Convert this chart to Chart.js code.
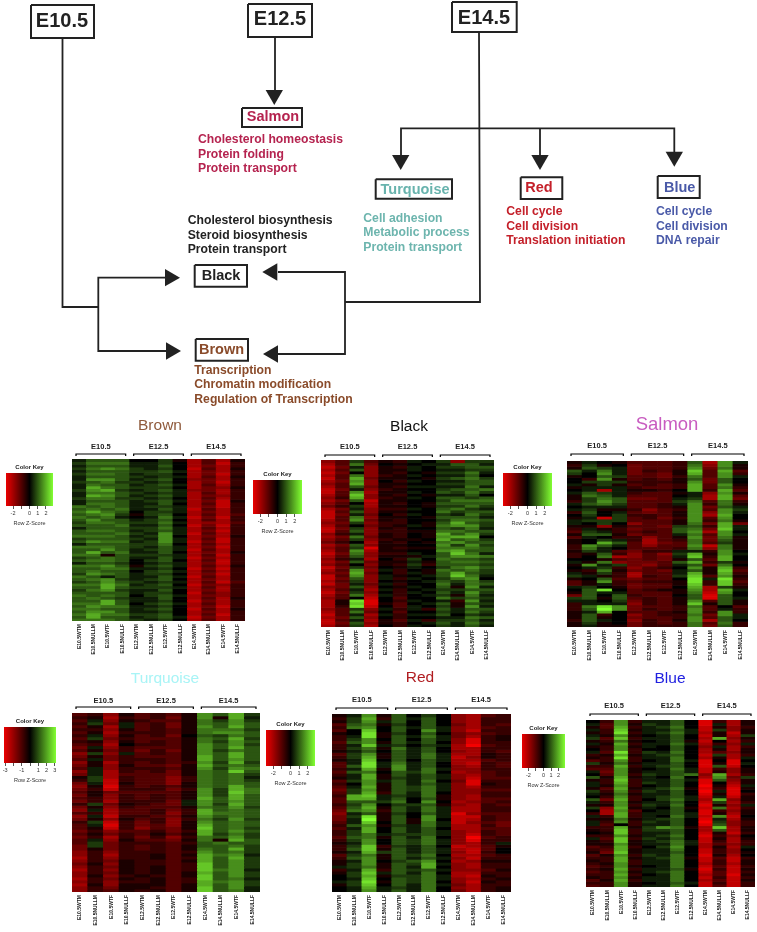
<!DOCTYPE html>
<html>
<head>
<meta charset="utf-8">
<title>Module heatmaps</title>
<script src="https://cdn.jsdelivr.net/npm/chart.js@4"></script>
<style>
  body { margin: 0; background: #fff; width: 757px; height: 932px; position: relative; overflow: hidden; }
  canvas { position: absolute; }
</style>
</head>
<body>
<script>
const sampleLabels = ["E10.5WTM","E10.5NULLM","E10.5WTF","E10.5NULLF","E12.5WTM","E12.5NULLM","E12.5WTF","E12.5NULLF","E14.5WTM","E14.5NULLM","E14.5WTF","E14.5NULLF"];
const stageLabels = ["E10.5","E12.5","E14.5"];
const keyTicks = [-2,-1,0,1,2];
const keyTickLabels = [-2,0,1,2];
const wideKeyTicks = [-3,-2,-1,0,1,2,3];
const wideKeyTickLabels = [-3,-1,1,2,3];

// cell values are row z-score levels, -9 (full red) to 9 (full green), one row per entry
const brownRows = [
[1,3,3,3,0,0,2,-1,-6,-3,-6,-1],[2,4,4,4,1,1,2,0,-6,-3,-7,-2],[1,3,3,3,1,1,3,0,-6,-4,-6,-2],[2,4,5,4,2,1,2,0,-7,-3,-6,-1],
[1,3,3,3,2,2,3,1,-6,-4,-6,-2],[2,4,4,3,1,2,2,0,-6,-4,-7,-2],[1,3,3,3,2,1,2,1,-6,-3,-6,-1],[1,5,5,3,1,2,3,0,-5,-4,-6,-2],
[2,3,4,2,2,1,2,0,-6,-4,-7,-2],[1,4,3,3,1,2,3,1,-6,-3,-6,-2],[1,6,4,3,2,2,2,0,-6,-4,-5,-1],[2,5,6,2,1,2,3,1,-5,-4,-6,-2],
[1,4,4,3,2,1,2,1,-6,-3,-6,-2],[1,6,5,3,1,2,3,1,-6,-4,-5,-2],[2,4,4,2,2,1,2,0,-6,-3,-6,-2],[1,3,3,3,1,2,3,1,-6,-4,-7,-1],
[1,4,4,3,1,1,3,0,-6,-3,-7,-2],[4,3,4,3,1,2,2,1,-6,-4,-7,-2],[3,4,3,4,1,1,3,1,-7,-3,-6,-2],[4,6,4,3,0,2,2,1,-6,-4,-6,-2],
[3,4,5,2,-1,2,3,0,-6,-3,-6,-3],[4,3,4,1,0,1,4,1,-7,-4,-7,-2],[3,5,3,3,1,2,3,0,-6,-3,-6,-2],[2,4,4,3,2,2,4,1,-6,-5,-6,-3],
[3,3,3,4,1,1,3,0,-7,-4,-7,-2],[1,3,3,3,2,2,4,1,-6,-3,-6,-2],[3,4,4,3,1,2,3,1,-6,-4,-7,-2],[3,3,3,4,2,1,5,1,-7,-3,-6,-2],
[4,4,4,3,1,2,5,0,-6,-4,-6,-1],[2,3,3,3,2,1,5,1,-6,-3,-7,-2],[3,5,4,4,1,2,5,1,-7,-4,-7,-2],[1,3,3,3,2,2,4,0,-6,-3,-6,-2],
[4,4,4,3,2,1,3,1,-6,-4,-7,-2],[3,3,5,3,1,2,3,1,-7,-3,-6,-2],[3,6,3,4,1,1,3,0,-6,-4,-6,-1],[4,4,-1,3,2,2,2,1,-6,-3,-7,-2],
[2,3,4,3,1,1,3,1,-7,-4,-6,-2],[3,4,4,3,0,2,3,0,-6,-3,-7,-2],[1,3,3,2,0,1,2,1,-6,-4,-7,-2],[4,4,5,3,-1,2,3,1,-6,-3,-6,-1],
[3,3,4,4,1,1,2,0,-7,-4,-7,-2],[3,4,3,3,0,2,3,1,-6,-3,-6,-2],[2,5,4,3,1,2,2,0,-6,-4,-7,-2],[4,3,1,3,1,1,3,1,-7,-3,-6,-2],
[3,4,5,2,1,2,3,0,-6,-4,-6,-2],[2,3,5,3,2,1,2,1,-6,-3,-7,-3],[4,4,6,4,1,2,3,0,-7,-4,-5,-2],[3,3,6,3,2,2,2,1,-6,-3,-6,-2],
[2,4,5,2,1,1,3,0,-6,-4,-6,-2],[3,3,3,3,1,2,2,0,-7,-3,-5,-2],[4,3,4,3,0,2,3,1,-6,-4,-5,-2],[3,4,3,2,1,1,3,0,-6,-3,-6,-1],
[3,3,6,3,1,1,2,0,-7,-4,-6,-2],[4,4,6,3,0,2,3,1,-6,-3,-6,-2],[3,5,4,4,1,1,2,0,-6,-4,-7,-2],[4,4,3,3,1,2,3,0,-7,-3,-6,-1],
[3,5,5,3,1,1,2,0,-6,-4,-6,-2],[4,6,4,4,2,2,3,0,-6,-3,-7,-2],[3,6,3,3,1,2,3,1,-7,-4,-6,-2],[4,4,4,3,2,1,2,0,-6,-3,-6,-2]
];
const blackRows = [
[-5,-3,2,-3,-1,-2,1,0,2,-5,2,2],[-6,-3,4,-4,0,-1,0,1,1,3,3,1],[-7,-4,1,-5,-1,-2,1,0,2,2,3,3],[-6,-3,3,-5,-1,-1,1,0,1,1,2,2],
[-7,-4,0,-5,-1,-2,0,-1,2,2,4,1],[-6,-3,4,-5,-2,-1,1,0,1,1,3,0],[-7,-3,6,-4,-1,-1,0,-1,2,3,4,2],[-6,-4,5,-5,0,-2,1,0,1,1,3,3],
[-5,-3,6,-5,-1,-1,0,0,2,2,3,3],[-6,-3,3,-4,-1,-2,1,1,1,1,4,1],[-7,-4,1,-5,-2,-1,0,0,2,3,3,4],[-7,-3,5,-6,-1,-1,1,0,3,2,4,2],
[-6,-3,7,-5,-1,-2,0,-1,1,1,3,0],[-5,-2,6,-5,-2,-1,1,0,3,3,2,3],[-6,-4,3,-7,-1,-1,0,0,2,4,4,4],[-5,-3,0,-6,-1,-2,0,-1,3,3,3,3],
[-4,-2,2,-6,-1,-1,0,-1,2,2,4,2],[-6,-4,1,-5,-2,-2,1,0,3,4,2,1],[-7,-3,3,-5,-1,-1,0,0,4,2,3,3],[-7,-4,1,-4,0,-2,1,0,2,1,4,2],
[-7,-3,4,-5,-1,-1,0,-1,3,3,3,1],[-6,-3,5,-4,-1,-2,0,0,2,4,4,3],[-5,-4,2,-5,-2,-2,0,-1,3,6,3,2],[-6,-3,0,-4,-2,-1,1,-1,4,5,5,2],
[-7,-4,2,-5,-1,-2,0,0,3,2,4,1],[-7,-3,3,-5,-2,-2,-1,-1,4,4,3,3],[-5,-2,1,-5,-1,-2,0,-1,6,3,5,2],[-6,-4,4,-4,-1,-2,0,-1,5,6,6,0],
[-5,-3,2,-5,-2,-1,-1,0,6,3,4,2],[-4,-2,0,-6,-1,-2,0,-1,4,5,3,3],[-6,-4,3,-5,-1,-1,0,0,5,2,5,2],[-5,-3,2,-8,-1,-2,-1,-1,4,4,4,3],
[-6,-3,5,-6,-1,-1,0,0,5,6,3,3],[-7,-4,4,-5,-2,-2,1,0,3,7,4,1],[-6,-3,3,-5,-1,-1,-1,1,3,5,5,4],[-5,-2,1,-6,0,-2,2,0,4,3,3,2],
[-6,-4,3,-4,-1,-1,1,-1,3,4,4,3],[-5,-3,0,-5,-1,-2,2,-2,3,3,3,2],[-7,-4,2,-4,0,-1,1,0,2,4,5,3],[-6,-3,5,-5,1,-2,0,-1,4,3,4,2],
[-5,-4,6,-4,0,-2,1,-1,3,6,3,2],[-7,-3,5,-5,1,-1,0,1,3,7,4,1],[-7,-4,3,-5,1,-2,1,0,2,4,5,0],[-6,-3,2,-5,0,-1,0,1,3,2,4,2],
[-7,-4,1,-4,1,-2,0,0,4,1,4,3],[-5,-4,3,-5,0,-1,1,0,3,-1,5,1],[-6,-3,1,-6,1,-2,0,1,2,2,3,3],[-7,-4,2,-5,0,-2,1,0,3,1,5,2],
[-6,-3,4,-6,1,-2,0,1,2,-1,4,1],[-5,-3,0,-7,0,-3,0,0,4,2,3,2],[-6,-1,8,-8,0,-2,1,0,1,-2,5,1],[-6,-1,7,-8,-1,-3,0,1,3,-1,3,2],
[-6,-2,8,-7,0,-3,1,0,2,-1,5,1],[-5,-3,2,-5,1,-2,1,-2,3,1,3,3],[-6,-3,4,-4,0,-3,0,0,2,1,4,2],[-7,-3,1,-6,1,-2,1,1,3,0,2,1],
[-6,-4,3,-5,0,-2,0,0,1,1,4,3],[-7,-3,1,-6,-1,-3,1,-2,2,2,3,1],[-7,-4,3,-5,-1,-2,0,1,3,1,4,2],[-6,-3,2,-6,0,-2,1,0,2,1,3,1]
];
const salmonRows = [
[-1,1,0,-1,-3,-3,-3,-2,3,-6,5,1],[-2,2,-1,0,-4,-3,-3,-2,4,-5,5,-1],[-1,3,2,1,-4,-3,-3,-2,5,-4,4,-1],[3,1,4,1,-4,-2,-3,-1,7,-3,6,-3],
[2,0,5,1,-4,-3,-4,-1,6,-3,5,-2],[-1,0,3,2,-3,-3,-4,-2,4,-3,5,1],[0,-2,5,-1,-3,-2,-3,-1,3,-4,3,0],[0,2,2,2,-2,-2,-2,-1,5,-4,3,0],
[1,-1,2,-1,-3,-2,-3,-2,6,-3,5,-1],[-1,1,1,1,-2,-3,-3,-2,6,-3,4,-2],[0,1,-6,1,-1,-1,-2,0,6,-2,6,-3],[1,3,2,1,-2,-3,-3,-1,1,-5,5,-1],
[-1,4,3,1,-3,-3,-3,0,1,-6,6,-3],[-1,2,4,3,-4,-4,-3,1,2,-6,6,-4],[-2,2,5,3,-3,-3,-3,2,4,-3,4,-2],[1,3,4,2,-3,-3,-2,1,5,-2,4,-1],
[0,1,1,1,-3,-3,-2,-1,5,-4,3,1],[1,2,-1,-1,-2,-5,-3,-2,5,-3,5,2],[-2,3,0,1,-3,-4,-3,-1,5,-5,5,1],[0,2,0,2,-2,-2,-3,-1,5,-6,6,0],
[-1,1,-7,2,-3,-2,-4,-2,5,-3,5,0],[1,2,2,2,-3,-3,-3,-1,5,-2,4,-1],[1,0,2,0,-5,-3,-3,-1,4,-4,6,-4],[-1,-1,-5,-1,-3,-3,-4,2,3,-2,6,1],
[-2,1,-1,-2,-4,-3,-3,3,4,-4,7,1],[-3,2,1,-2,-3,-2,-3,3,5,-6,5,0],[-1,3,3,-1,-4,-3,-3,1,4,-3,5,1],[-3,1,0,-2,-2,-5,-3,-1,5,-4,4,-1],
[-1,0,2,1,-2,-6,-3,-2,4,-4,3,-1],[-1,0,6,3,-3,-6,-4,-3,4,-3,2,-1],[-2,5,3,1,-3,-5,-3,-3,5,-7,4,-1],[-2,4,1,0,-3,-3,-3,-2,4,-5,4,-1],
[-1,2,1,-3,-4,-2,-2,1,1,-2,5,0],[-2,-1,3,-2,-5,-3,-5,2,6,-1,5,1],[-2,0,4,-6,-5,-3,-4,1,7,-2,6,0],[0,0,-1,-3,-4,-3,-4,-1,3,-3,6,0],
[1,-1,4,-5,-4,-4,-3,3,6,-2,2,-1],[-1,5,1,2,-4,-5,-3,1,3,-4,4,0],[0,1,2,-2,-5,-3,-2,0,5,-1,6,-2],[-1,-2,4,-1,-4,-3,-4,1,3,-1,7,-3],
[1,-1,2,-2,-6,-3,-3,1,6,-1,6,-2],[2,1,-1,-2,-6,-2,-3,2,7,-3,5,-1],[-1,0,3,-3,-4,-3,-3,0,8,1,8,-2],[-3,-1,5,-2,-3,-2,-2,-1,8,-2,7,-3],
[-3,-1,1,-2,-4,-3,-3,-1,7,-2,7,-2],[1,2,0,-1,-4,-3,-3,0,6,-6,2,-1],[0,3,8,0,-3,-2,-1,-1,5,-6,6,1],[-1,3,1,1,-3,-3,-3,-1,4,-7,5,0],
[-4,3,0,3,-2,-3,-3,0,3,-8,3,0],[2,3,-1,3,-3,-2,-3,-1,3,-8,3,1],[1,1,0,2,-4,-2,-3,-1,5,-3,3,-1],[-2,1,1,1,-5,-2,-3,-1,7,-1,3,-1],
[-2,4,8,5,-4,-3,-3,-2,4,-3,0,-3],[-2,3,9,5,-4,-2,-3,-2,5,-3,1,-2],[-1,1,6,0,-3,-3,-2,-1,5,-2,5,-2],[-1,3,-2,0,-5,-3,-2,-2,4,-4,5,1],
[-1,3,-1,0,-4,-3,-3,-2,5,-3,3,1],[-2,3,1,0,-5,-2,-3,-1,5,-6,3,0],[-1,2,-1,0,-4,-2,-3,-2,4,-3,4,-2],[-1,1,-1,-1,-4,-2,-2,-2,4,-4,3,-2]
];
const turquoiseRows = [
[-3,-2,-5,-1,-3,-2,-3,-1,5,3,6,2],[-2,-1,-6,-2,-3,-2,-4,-1,5,-1,6,1],[-3,1,-5,-1,-2,-3,-3,-1,4,2,5,2],[-2,2,-4,1,-3,-2,-4,-1,4,3,5,3],
[-3,-1,-6,1,-3,-2,-4,-1,5,3,6,3],[-2,-2,-5,-1,-3,-2,-3,-1,4,4,4,2],[-3,-1,-6,-2,-2,-2,-3,-1,4,5,5,3],[-2,1,-5,-1,-3,-2,-4,0,3,2,4,3],
[-3,2,-4,-2,-3,-3,-3,-1,4,3,6,2],[-2,-1,-5,-1,-3,-2,-3,-1,4,2,5,3],[-3,-2,-6,0,-2,-2,-3,-1,5,3,5,2],[-4,1,-5,-2,-3,-3,-3,-1,5,3,6,3],
[-3,-1,-4,-2,-4,-2,-4,-1,5,2,4,3],[-5,2,-5,1,-3,-2,-3,-1,5,3,6,3],[-4,-1,-4,-2,-3,-3,-3,-1,6,3,6,3],[-3,1,-4,-2,-2,-2,-3,-1,6,3,5,3],
[-5,-1,-6,-2,-3,-2,-3,-2,5,2,6,2],[-4,-1,-5,-1,-3,-3,-4,-1,6,3,4,3],[-3,1,-5,-2,-2,-2,-3,-1,5,2,5,4],[-5,1,-6,-2,-3,-2,-4,-1,4,3,7,3],
[-4,1,-6,-3,-3,-3,-4,-1,4,3,4,2],[-1,2,-6,-2,-3,-3,-5,-2,4,3,4,1],[-2,2,-7,-2,-3,-3,-5,-2,4,3,4,2],[-4,1,-7,-1,-3,-3,-5,-1,4,3,4,3],
[-5,-1,-8,-2,-3,-2,-3,-1,4,3,6,3],[-4,-2,-7,-2,-2,-2,-4,-2,5,2,6,4],[-3,-1,-4,-3,-3,-3,-3,-1,5,2,7,4],[-4,-1,-5,-2,-3,-2,-3,-1,5,2,6,3],
[-3,-2,-5,-2,-3,-2,-3,-1,6,3,6,3],[-4,-2,-6,-2,-2,-2,-4,1,5,3,5,3],[-2,2,-4,-1,-2,-3,-4,1,5,2,6,3],[-4,-1,-5,-2,-3,-3,-3,-1,4,3,5,2],
[-5,1,-6,-3,-3,-2,-4,-2,6,3,4,3],[-3,-2,-6,-3,-3,-2,-5,-2,6,4,4,3],[-5,1,-7,-2,-2,-3,-4,-1,5,3,4,3],[-4,-1,-5,-1,-3,-2,-5,-2,4,2,5,2],
[-2,2,-7,-2,-4,-2,-5,-1,5,3,4,3],[-3,1,-8,-2,-4,-3,-5,-1,6,3,4,3],[-3,-1,-7,-2,-5,-3,-4,-1,7,3,4,2],[-4,-2,-5,-3,-3,-2,-4,-2,6,3,5,3],
[-3,-1,-4,-2,-3,-1,-3,-1,6,2,4,2],[-4,-2,-6,-2,-4,-2,-5,-2,4,3,5,2],[-3,1,-5,-1,-3,-3,-4,-1,4,-1,6,3],[-3,2,-4,-2,-2,-2,-3,-2,3,4,3,3],
[-4,2,-4,-2,-3,-2,-3,-1,3,3,4,2],[-4,-1,-4,-2,-3,-2,-3,-1,4,3,6,2],[-5,-2,-5,-2,-2,-2,-3,-2,5,3,4,2],[-5,-2,-6,-2,-2,-1,-3,-1,6,4,5,1],
[-6,-2,-5,-2,-2,-1,-3,-2,6,3,6,2],[-5,-2,-4,-1,-2,-2,-3,-1,6,3,5,2],[-4,-1,-5,-1,-2,-2,-3,-2,7,3,5,2],[-5,-2,-4,-1,-2,-1,-3,-2,7,3,5,2],
[-6,-2,-5,-1,-2,-1,-3,-2,7,4,5,1],[-5,-2,-4,-1,-2,-1,-3,-1,6,3,5,2],[-5,-1,-5,-2,-1,-2,-3,-1,7,3,5,2],[-6,-2,-4,-1,-2,-1,-3,-2,7,3,4,1],
[-5,-2,-5,-2,-2,-1,-3,-2,6,4,5,2],[-6,-1,-5,-1,-1,-1,-3,-1,6,3,5,2],[-5,-2,-4,-1,-1,-2,-3,-1,7,3,5,1],[-5,-2,-3,-1,-2,-1,-3,-1,7,3,4,1]
];
const redRows = [
[-1,1,5,-1,3,0,2,0,-5,-6,-3,-2],[-2,2,6,-2,3,1,3,0,-5,-6,-2,-2],[-1,2,5,1,3,0,3,0,-5,-6,-2,-2],[-3,3,4,-1,2,0,3,0,-4,-6,-2,-3],
[-2,4,5,0,3,1,3,1,-5,-6,-3,-2],[-3,0,7,0,3,0,5,1,-5,-7,-2,-2],[-1,0,8,-1,2,0,3,0,-4,-5,-3,-2],[-2,1,8,-1,3,1,4,1,-4,-6,-2,-1],
[-2,2,5,0,3,0,3,1,-5,-8,-2,-1],[-3,3,5,-1,3,1,3,0,-5,-8,-2,-2],[-2,1,7,1,2,0,2,1,-6,-9,-3,-2],[-2,2,4,-1,4,1,3,0,-6,-6,-2,-2],
[-1,1,3,0,3,1,3,0,-5,-6,-2,-3],[-3,2,5,-1,3,1,4,1,-6,-6,-1,-2],[-2,2,6,-1,3,1,4,1,-7,-5,-1,-2],[-1,1,7,0,3,0,3,1,-6,-6,-3,-2],
[-3,1,8,1,4,1,3,0,-6,-7,-2,-3],[-3,3,8,1,5,1,3,0,-5,-6,-2,-3],[-2,1,6,-1,5,1,4,1,-5,-5,-2,-2],[-3,3,4,0,3,2,4,0,-6,-5,-3,-2],
[-2,1,6,-1,3,1,3,1,-5,-6,-3,-2],[-1,1,6,-1,2,1,3,1,-5,-7,-3,-3],[-3,2,5,1,3,1,4,0,-4,-8,-2,-2],[-2,0,5,-1,3,1,3,1,-5,-8,-1,-2],
[-3,1,6,-1,3,2,4,1,-5,-6,-2,-2],[-4,2,5,-1,3,2,4,1,-5,-5,-3,-3],[-3,2,6,-2,3,1,4,0,-5,-5,-2,-2],[-2,6,7,1,2,1,4,-1,-5,-6,-2,-2],
[-3,6,6,1,3,0,3,-1,-5,-6,-3,-3],[-3,3,3,2,4,0,5,0,-6,-5,-3,-2],[-2,2,5,0,2,2,3,-1,-5,-6,-2,-3],[-3,3,6,-1,3,1,4,1,-6,-6,-2,-2],
[-4,4,5,-2,3,1,4,1,-6,-6,-2,-2],[-5,1,3,-1,2,0,3,1,-8,-5,-3,-3],[-4,2,8,-1,3,0,5,1,-7,-7,-2,-3],[-4,1,9,-1,3,-1,5,0,-7,-6,-2,-3],
[-3,1,7,0,3,-1,4,1,-7,-5,-3,-4],[-2,3,5,-1,2,1,4,1,-6,-6,-2,-4],[-3,1,6,0,3,1,3,0,-6,-6,-3,-3],[-2,2,6,0,3,1,3,1,-5,-6,-2,-3],
[-2,2,4,1,2,2,3,1,-5,-7,-2,-3],[-3,3,4,-1,3,1,4,0,-5,-9,-3,-2],[-2,2,5,0,3,2,4,1,-5,-8,-2,-2],[-1,1,5,0,3,2,4,1,-5,-6,-2,1],
[-2,2,7,-2,2,1,3,0,-7,-6,-3,-1],[-2,3,7,-1,3,1,3,1,-6,-7,-3,0],[-1,1,6,2,3,1,3,1,-5,-7,-2,0],[-3,2,4,-1,3,2,4,0,-6,-6,-3,-2],
[-2,3,5,-1,3,1,3,1,-5,-7,-2,-2],[-1,1,5,0,2,3,5,0,-6,-5,-1,-1],[-1,2,5,-1,3,2,6,1,-5,-6,-2,-2],[1,2,4,-1,3,1,6,0,-5,-6,-2,-2],
[-2,1,6,-2,3,2,3,1,-5,-5,-3,-1],[-1,2,7,1,3,1,4,0,-6,-6,-2,-2],[0,2,6,-1,2,2,4,1,-6,-7,-1,-2],[0,1,7,0,3,2,4,1,-5,-6,-2,-1],
[1,2,8,-1,3,2,4,0,-5,-7,-1,-2],[-1,2,7,0,3,1,4,1,-4,-6,-2,-2],[0,1,6,1,2,1,4,0,-5,-6,-2,-1],[0,1,5,1,3,1,4,0,-4,-6,-2,-1]
];
const blueRows = [
[0,-2,5,-2,1,1,3,0,-8,-2,-6,-1],[1,-3,5,-1,2,1,3,0,-8,1,-6,-1],[-1,-3,6,-2,1,2,4,0,-7,-1,-5,-2],[1,-2,7,-1,1,1,3,1,-7,2,-5,-1],
[-1,-2,8,-2,1,2,4,1,-6,-1,-7,-1],[1,-1,5,-1,0,1,3,0,-7,-1,-6,2],[2,-3,7,-2,1,1,3,0,-6,6,-5,-1],[-1,-2,4,-1,0,1,3,-1,-7,0,-6,-2],
[1,-1,6,-2,1,1,4,1,-6,-2,-5,1],[-1,-2,5,-1,1,0,3,0,-5,1,-6,-2],[0,-2,5,-2,0,0,3,0,-6,-1,-6,-1],[1,-3,8,-2,2,1,4,0,-6,-3,-5,-1],
[-2,-1,6,-1,1,2,3,0,-7,2,-6,-2],[-1,-2,8,-2,1,1,4,0,-6,-1,-6,1],[-3,-2,5,-2,0,1,4,1,-8,0,-8,0],[2,-1,4,-1,1,1,3,0,-8,-1,-8,1],
[-2,-2,6,-2,1,2,3,0,-8,3,-7,0],[-3,-3,5,-1,0,1,4,1,-7,-2,-5,-1],[1,-4,5,-1,1,1,3,1,-7,-1,-5,-1],[0,-3,5,-2,2,1,3,4,-5,6,-6,-2],
[3,-1,6,-1,1,0,4,0,-6,5,-4,2],[-1,-2,7,-2,1,1,3,1,-8,3,-5,-1],[1,-2,6,-2,2,1,3,0,-8,0,-6,-1],[1,-1,5,-2,0,1,3,0,-9,-1,-7,1],
[-1,-3,6,-1,1,2,4,-1,-8,-2,-8,-1],[2,-2,5,-2,2,1,3,0,-9,1,-8,0],[1,-1,4,-1,1,1,3,0,-8,-1,-8,-2],[0,-2,5,-2,1,2,3,1,-7,1,-7,-1],
[3,-4,6,-2,0,2,4,1,-6,6,-5,-1],[1,-2,5,-1,1,1,3,0,-7,2,-6,-2],[-1,-1,5,-2,2,1,4,0,-8,-1,-5,1],[2,-5,6,-1,1,0,3,-1,-7,4,-6,-2],
[0,-6,5,-3,0,1,3,0,-8,-2,-5,-1],[-2,-6,6,-2,1,1,3,1,-8,-1,-6,-1],[1,-2,6,-2,1,0,4,1,-7,5,-7,0],[-1,-1,4,-1,1,2,3,0,-8,1,-6,-1],
[1,-2,5,-2,2,1,3,0,-9,2,-5,-2],[1,-3,0,-2,1,1,3,0,-8,3,-5,-2],[-2,-2,6,-1,2,5,4,-1,-6,7,-6,-1],[-1,-2,7,-2,2,2,3,0,-6,3,-6,-1],
[0,-1,7,-2,1,1,3,0,-7,-1,-7,-2],[-2,-2,5,-1,1,2,4,0,-8,-2,-5,0],[1,-3,7,-2,2,1,3,0,-7,-1,-6,-1],[-1,-2,7,-1,1,2,4,1,-7,-2,-6,-2],
[-1,-1,5,-1,1,1,4,1,-6,-3,-5,-2],[-3,-2,6,-2,0,2,5,0,-6,-1,-6,1],[-2,-3,6,-1,1,1,4,0,-7,-2,-5,0],[-1,-4,7,-1,1,1,3,0,-7,-2,-5,-1],
[-3,-1,5,-2,2,1,4,0,-8,-1,-6,0],[-2,-2,6,-1,1,2,4,-1,-7,-3,-7,-2],[-1,-2,6,-2,1,1,4,0,-7,-2,-7,-1],[-2,-1,5,-2,1,1,4,0,-6,-2,-6,-1],
[-3,-2,5,-1,0,1,4,0,-7,-3,-7,-2],[-2,-1,6,-2,1,1,3,-1,-8,-2,-7,-1],[-3,-2,5,-1,1,2,4,0,-7,-3,-7,-2],[-2,-2,6,-2,0,1,4,0,-6,-3,-8,-1],
[-1,-2,5,-1,1,1,4,0,-7,-2,-7,-2],[-3,-1,6,-2,1,1,4,0,-6,-3,-7,-1],[-2,-2,5,-1,0,1,3,1,-7,-2,-7,-2],[-3,-2,5,-1,1,1,4,0,-7,-3,-7,-2]
];

// flow diagram lines, in page pixels of the diagram axes
const e105Path = [{x:62.5,y:38},{x:62.5,y:307},{x:98.3,y:307}];
const leftFork = [{x:166,y:277.7},{x:98.3,y:277.7},{x:98.3,y:351},{x:166,y:351}];
const e125Path = [{x:275,y:37},{x:275,y:90}];
const e145Path = [{x:479,y:32},{x:480,y:302},{x:345,y:302}];
const rightFork = [{x:278,y:272},{x:345,y:272},{x:345,y:354},{x:278,y:354}];
const topRail = [{x:401,y:155},{x:401,y:128.3},{x:674.3,y:128.3},{x:674.3,y:152}];
const midDrop = [{x:540,y:128.3},{x:540,y:155}];
const downHeads = [{x:274.3,y:95},{x:400.7,y:160},{x:540,y:160},{x:674.3,y:156.7}];
const rightHeads = [{x:170,y:277.7},{x:171,y:351}];
const leftHeads = [{x:272.3,y:272},{x:273,y:354}];

const nodes = [
  {text:"E10.5", box:[31,5,94,38], tx:62, ty:21, size:20, color:"#222"},
  {text:"E12.5", box:[248,4,312,37], tx:280, ty:19.5, size:20, color:"#222"},
  {text:"E14.5", box:[452,2,516.7,32], tx:484, ty:18, size:20, color:"#222"},
  {text:"Salmon", box:[242,108,302,127], tx:273, ty:117, size:14.5, color:"#b5234f"},
  {text:"Black", box:[194.7,265,247,286.7], tx:221, ty:276, size:14.5, color:"#222"},
  {text:"Brown", box:[195.7,339,248,360.7], tx:221.5, ty:350, size:14.5, color:"#8a4b2a"},
  {text:"Turquoise", box:[375.7,179.3,452,198.7], tx:415, ty:189.5, size:14.5, color:"#68b3ad"},
  {text:"Red", box:[520.7,177.3,562.3,199], tx:539, ty:187.5, size:14.5, color:"#c4202a"},
  {text:"Blue", box:[657.7,176,699.7,198], tx:679.7, ty:188, size:14.5, color:"#4a5aa8"}
];
const termLists = [
  {x:198, y:140, color:"#b5234f", terms:["Cholesterol homeostasis","Protein folding","Protein transport"]},
  {x:187.7, y:221, color:"#222", terms:["Cholesterol biosynthesis","Steroid biosynthesis","Protein transport"]},
  {x:194.3, y:370.7, color:"#8a4b2a", terms:["Transcription","Chromatin modification","Regulation of Transcription"]},
  {x:363.3, y:218.7, color:"#6db5ae", terms:["Cell adhesion","Metabolic process","Protein transport"]},
  {x:506.3, y:212, color:"#c4202a", terms:["Cell cycle","Cell division","Translation initiation"]},
  {x:656, y:212, color:"#4a5aa8", terms:["Cell cycle","Cell division","DNA repair"]}
];

const panels = [
  {title:"Brown", color:"#8f5a3c", size:15.5, titleX:160, titleY:426, box:[72,459,245,621], bracketY:454, stageY:447, rows:brownRows},
  {title:"Black", color:"#111", size:15.5, titleX:409, titleY:427, box:[321,460,494,627], bracketY:455, stageY:447, rows:blackRows},
  {title:"Salmon", color:"#c85cc0", size:18.5, titleX:667, titleY:425, box:[567,461,748,627], bracketY:454, stageY:446, rows:salmonRows},
  {title:"Turquoise", color:"#a8f4f6", size:15.5, titleX:165, titleY:679, box:[72,713,260,892], bracketY:707, stageY:700.5, rows:turquoiseRows},
  {title:"Red", color:"#b01c20", size:15.5, titleX:420, titleY:678, box:[332,714,511,892], bracketY:708, stageY:700, rows:redRows},
  {title:"Blue", color:"#2020e0", size:15.5, titleX:670, titleY:679, box:[586,720,755,887], bracketY:714, stageY:706, rows:blueRows}
];
const keys = [
  {box:[6,473,53,506], range:2.85, ticks:keyTicks, labels:keyTickLabels},
  {box:[253,480,302,514], range:2.85, ticks:keyTicks, labels:keyTickLabels},
  {box:[503,473,552,506], range:2.85, ticks:keyTicks, labels:keyTickLabels},
  {box:[4,727,56,763], range:3.15, ticks:wideKeyTicks, labels:wideKeyTickLabels},
  {box:[266,730,315,766], range:2.85, ticks:keyTicks, labels:keyTickLabels},
  {box:[522,734,565,768], range:2.85, ticks:keyTicks, labels:keyTickLabels}
];

const FONT = '"Liberation Sans", Arial, sans-serif';
Chart.defaults.font.family = FONT;

function addCanvas(left, top, w, h) {
  const c = document.createElement("canvas");
  c.width = w; c.height = h;
  c.style.left = left + "px";
  c.style.top = top + "px";
  document.body.appendChild(c);
  return c;
}

function cellColor(v) {
  const t = Math.min(Math.abs(v) / 9, 1);
  if (v < 0) return `rgb(${Math.round(245 * t)},0,0)`;
  return `rgb(${Math.round(130 * t)},${Math.round(255 * t)},${Math.round(50 * t)})`;
}

function drawFlow() {
  const line = (data, width) => ({type:"line", data, showLine:true, fill:false, tension:0, pointRadius:0, borderColor:"#222", borderWidth:width || 1.8});
  const heads = (data, rotation) => ({type:"scatter", data, pointStyle:"triangle", pointRadius:10, pointRotation:rotation, backgroundColor:"#222", borderWidth:0});
  const boxLine = n => {
    const [x0,y0,x1,y1] = n.box;
    return line([{x:x0,y:y0},{x:x1,y:y0},{x:x1,y:y1},{x:x0,y:y1},{x:x0,y:y0}], 2);
  };
  new Chart(addCanvas(0, 0, 757, 410), {
    type: "scatter",
    data: {datasets: [
      line(e105Path), line(leftFork), line(e125Path), line(e145Path), line(rightFork), line(topRail), line(midDrop),
      heads(downHeads, 180), heads(rightHeads, 90), heads(leftHeads, 270),
      ...nodes.map(boxLine)
    ]},
    options: {
      responsive: false, animation: false,
      layout: {autoPadding: false},
      plugins: {legend:{display:false}, tooltip:{enabled:false}},
      scales: {x:{display:false, min:0, max:757}, y:{display:false, min:0, max:410, reverse:true}}
    },
    plugins: [{
      id: "flowText",
      afterDraw(chart) {
        const {ctx, scales:{x, y}} = chart;
        ctx.save();
        ctx.textBaseline = "middle";
        ctx.textAlign = "center";
        nodes.forEach(n => {
          ctx.font = `bold ${n.size}px ${FONT}`;
          ctx.fillStyle = n.color;
          ctx.fillText(n.text, x.getPixelForValue(n.tx), y.getPixelForValue(n.ty));
        });
        ctx.textAlign = "left";
        ctx.font = `bold 12.2px ${FONT}`;
        termLists.forEach(l => {
          ctx.fillStyle = l.color;
          l.terms.forEach((t, i) => ctx.fillText(t, x.getPixelForValue(l.x), y.getPixelForValue(l.y + i * 14.4)));
        });
        ctx.restore();
      }
    }]
  });
}

function drawHeatmap(p) {
  const [x0, y0, x1, y1] = p.box;
  const top = p.titleY - 13, bottom = Math.min(y1 + 40, 932);
  new Chart(addCanvas(x0, top, x1 - x0, bottom - top), {
    type: "bar",
    data: {
      labels: sampleLabels,
      datasets: p.rows.map(row => ({
        data: row.map(() => 1),
        backgroundColor: row.map(cellColor),
        borderWidth: 0, barPercentage: 1, categoryPercentage: 1
      }))
    },
    options: {
      responsive: false, animation: false,
      layout: {padding: {top: y0 - top}},
      plugins: {legend:{display:false}, tooltip:{enabled:false}},
      scales: {
        x: {
          stacked: true,
          grid: {display:false, drawTicks:false},
          border: {display:false},
          afterFit: s => { s.height = bottom - y1; s.paddingLeft = 0; s.paddingRight = 0; },
          ticks: {autoSkip:false, minRotation:90, maxRotation:90, padding:3, color:"#222", font:{size:5, weight:"bold"}}
        },
        y: {display:false, stacked:true, reverse:true, min:0, max:p.rows.length}
      }
    },
    plugins: [{
      id: "panelText",
      afterDraw(chart) {
        const {ctx, scales:{x}} = chart;
        const col = x.getPixelForTick(1) - x.getPixelForTick(0);
        ctx.save();
        ctx.textAlign = "center";
        ctx.textBaseline = "middle";
        ctx.font = `${p.size}px ${FONT}`;
        ctx.fillStyle = p.color;
        ctx.fillText(p.title, p.titleX - x0, p.titleY - top);
        stageLabels.forEach((s, i) => {
          const a = x.getPixelForTick(i * 4) - col / 2 + 4;
          const b = x.getPixelForTick(i * 4 + 3) + col / 2 - 4;
          const by = p.bracketY - top;
          ctx.strokeStyle = "#000";
          ctx.lineWidth = 1.2;
          ctx.beginPath();
          ctx.moveTo(a, by + 2); ctx.lineTo(a, by); ctx.lineTo(b, by); ctx.lineTo(b, by + 2);
          ctx.stroke();
          ctx.font = `bold 7.5px ${FONT}`;
          ctx.fillStyle = "#222";
          ctx.fillText(s, (a + b) / 2, p.stageY - top);
        });
        ctx.restore();
      }
    }]
  });
}

function drawKey(k) {
  const [x0, y0, x1, y1] = k.box;
  const left = x0 - 4, top = y0 - 12, w = x1 - x0 + 8, h = y1 - y0 + 12 + 21;
  new Chart(addCanvas(left, top, w, h), {
    type: "bar",
    data: {
      labels: ["key"],
      datasets: [{
        data: [[-k.range, k.range]],
        borderWidth: 0, barPercentage: 1, categoryPercentage: 1,
        backgroundColor(ctx) {
          const area = ctx.chart.chartArea;
          if (!area) return "#000";
          const g = ctx.chart.ctx.createLinearGradient(area.left, 0, area.right, 0);
          g.addColorStop(0, "rgb(235,0,0)");
          g.addColorStop(0.5, "#000");
          g.addColorStop(1, "rgb(130,255,50)");
          return g;
        }
      }]
    },
    options: {
      indexAxis: "y",
      responsive: false, animation: false,
      layout: {padding: {top: 12, left: 4, right: 4}},
      plugins: {legend:{display:false}, tooltip:{enabled:false}},
      scales: {
        y: {display:false},
        x: {
          min: -k.range, max: k.range,
          afterBuildTicks: s => { s.ticks = k.ticks.map(v => ({value:v})); },
          afterFit: s => { s.height = 21; },
          grid: {drawOnChartArea:false, tickLength:3, color:"#555"},
          border: {display:false},
          ticks: {autoSkip:false, maxRotation:0, padding:1, color:"#333", font:{size:5.5},
            callback: v => k.labels.includes(v) ? String(v) : ""},
          title: {display:true, text:"Row Z-Score", color:"#333", font:{size:5.5}, padding:0}
        }
      }
    },
    plugins: [{
      id: "keyTitle",
      afterDraw(chart) {
        const {ctx, chartArea} = chart;
        ctx.save();
        ctx.textAlign = "center";
        ctx.textBaseline = "middle";
        ctx.font = `bold 6px ${FONT}`;
        ctx.fillStyle = "#222";
        ctx.fillText("Color Key", (chartArea.left + chartArea.right) / 2, chartArea.top - 5.5);
        ctx.restore();
      }
    }]
  });
}

drawFlow();
panels.forEach(drawHeatmap);
keys.forEach(drawKey);
</script>
</body>
</html>
